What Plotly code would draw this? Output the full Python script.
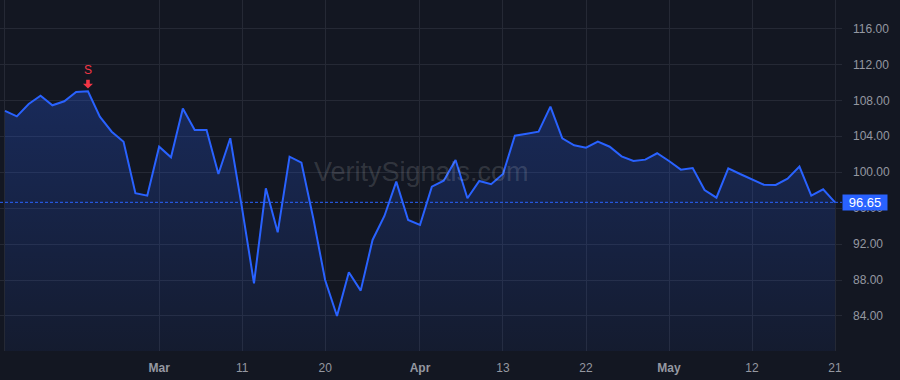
import plotly.graph_objects as go

# ---- data ----
prices = [
    106.82, 106.22, 107.60, 108.52, 107.45, 107.90, 108.93, 109.00, 106.18, 104.51,
    103.40, 97.66, 97.39, 102.84, 101.66, 107.10, 104.70, 104.70, 99.80, 103.78,
    95.94, 87.64, 98.21, 93.31, 101.73, 101.06, 94.87, 88.00, 84.00, 88.86,
    86.82, 92.46, 95.13, 98.95, 94.68, 94.13, 98.40, 99.06, 101.36, 97.10,
    99.03, 98.66, 99.80, 104.07, 104.29, 104.51, 107.30, 103.78, 103.00, 102.73,
    103.40, 102.84, 101.77, 101.25, 101.40, 102.11, 101.25, 100.29, 100.47, 98.02,
    97.17, 100.44, 99.80, 99.21, 98.61, 98.58, 99.28, 100.62, 97.39, 98.10,
    96.65,
]
sessions = list(range(len(prices)))

x_tick_sessions = [0, 13, 20, 27, 35, 42, 49, 56, 63, 70]
x_tick_labels = ["11", "<b>Mar</b>", "11", "20", "<b>Apr</b>", "13", "22", "<b>May</b>", "12", "21"]

y_tick_values = [84, 88, 92, 96, 100, 104, 108, 112, 116]
y_tick_labels = [f"{v:.2f}" for v in y_tick_values]

last_price = prices[-1]
signal_session = 7
signal_label = "S"
watermark = "VeritySignals.com"

# ---- styles ----
BG = "#131722"
BLUE = "#2962ff"
RED = "#f23645"
GRID = "#252935"
TXT = "#9598a1"
FONT = "Liberation Sans, Arial, sans-serif"

fig = go.Figure()
fig.add_trace(go.Scatter(
    x=sessions, y=prices, mode="lines",
    line=dict(color=BLUE, width=2),
    fill="tozeroy",
    fillgradient=dict(
        type="vertical",
        colorscale=[[0, "rgba(41,98,255,0.06)"], [1, "rgba(41,98,255,0.26)"]],
        start=80, stop=110,
    ),
    hoverinfo="skip", showlegend=False,
))

# last price dotted line
fig.add_shape(type="line", xref="paper", x0=0, x1=1, yref="y",
              y0=last_price, y1=last_price,
              line=dict(color=BLUE, width=1, dash="3px,2px"), layer="above")

# last price label
fig.add_annotation(xref="paper", x=1.0, xanchor="left", yref="y", y=last_price,
                   text=f"{last_price:.2f}", showarrow=False,
                   bgcolor=BLUE, font=dict(color="#ffffff", size=13, family=FONT),
                   width=42, height=13, borderpad=1, align="center")

# sell signal: block arrow pointing down, anchored at the signal point (pixel-sized)
fig.add_shape(type="path", xref="x", yref="y",
              xsizemode="pixel", ysizemode="pixel",
              xanchor=signal_session, yanchor=prices[signal_session],
              path="M -1.8,11.5 L 1.8,11.5 L 1.8,7.5 L 5,7.5 L 0,2.8 L -5,7.5 L -1.8,7.5 Z",
              fillcolor=RED, line=dict(width=0), layer="above")
fig.add_annotation(x=signal_session, y=prices[signal_session], xref="x", yref="y",
                   text=signal_label, showarrow=False, yshift=21,
                   font=dict(color=RED, size=12, family=FONT))

# watermark
fig.add_annotation(xref="paper", x=0.5, yref="y", y=100.0, text=watermark,
                   showarrow=False, font=dict(color="rgba(255,255,255,0.14)", size=27, family=FONT))

fig.update_layout(
    width=900, height=380,
    margin=dict(l=0, r=58, t=0, b=29),
    paper_bgcolor=BG, plot_bgcolor=BG,
    font=dict(family=FONT, size=12, color=TXT),
    showlegend=False,
    hovermode=False,
)
fig.update_xaxes(
    range=[-0.42, 70.59], tickmode="array",
    tickvals=x_tick_sessions, ticktext=x_tick_labels,
    showgrid=True, gridcolor=GRID, gridwidth=1, zeroline=False,
    showline=False, ticks="", ticklabelstandoff=8,
    tickfont=dict(size=12, color=TXT, family=FONT),
)
fig.update_yaxes(
    range=[80.1, 119.17], side="right", tickmode="array",
    tickvals=y_tick_values, ticktext=y_tick_labels,
    showgrid=True, gridcolor=GRID, gridwidth=1, zeroline=False,
    showline=False, ticks="", ticklabelstandoff=10,
    tickfont=dict(size=12, color=TXT, family=FONT),
)

fig.write_html("out.html")
